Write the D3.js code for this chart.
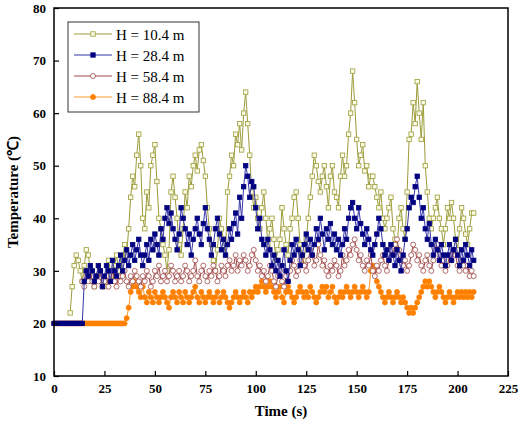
<!DOCTYPE html>
<html><head><meta charset="utf-8">
<script src="https://cdn.jsdelivr.net/npm/d3@7"></script>
<style>body{margin:0;background:#fff}text{font-family:"Liberation Serif","Times New Roman",serif}</style>
</head><body><svg id="c" width="520" height="427"></svg>
<script>
// series values, one sample per second starting at the given time
var start104 = 8;
var h104 = [22,27,31,33,32,30,28,31,34,33, 30,28,27,29,31,30,28,27,29,32, 30,28,31,33,30,29,32,35,33,38,
  44,48,46,52,56,50,40,38,45,42, 50,52,54,47,40,38,35,33,30,34, 45,48,44,40,35,33,38,45,42,48,
  46,50,52,49,53,54,51,48,42,38, 35,32,30,34,40,38,36,33,45,48, 52,50,56,54,58,53,60,64,58,52,
  45,42,44,40,38,42,45,40,35,38, 40,36,32,34,36,42,38,35,33,38, 40,44,45,40,35,33,32,36,40,44,
  48,52,50,47,45,48,50,46,42,48, 50,45,44,42,48,52,48,50,56,60, 68,62,55,50,52,54,49,50,46,48,
  48,46,44,42,45,40,38,40,42,44, 38,36,34,40,42,38,36,45,55,56, 62,58,66,60,55,62,50,45,40,38,
  40,42,44,40,38,35,38,42,40,43, 40,36,34,38,42,40,37,35,38,41, 41];
var start284 = 0;
var h284 = [20,20,20,20,20,20,20,20,20,20,20,20,20,20,20,
  28,30,29,31,30,28,29,31,30,27, 29,31,30,28,32,30,29,31,33,30, 32,34,31,33,35,32,34,36,33,31,
  33,35,32,36,34,37,35,33,38,36, 40,42,39,41,38,36,34,37,42,40, 38,35,37,33,36,38,40,37,35,39,
  42,38,36,33,35,38,40,37,34,36, 33,35,38,36,39,41,37,44,40,46, 50,48,44,47,46,42,38,40,36,35,
  33,36,34,31,33,30,32,29,31,34, 30,28,32,35,33,36,34,31,33,35, 37,34,36,33,35,38,36,40,37,34,
  38,36,39,35,37,34,36,33,35,38, 36,40,42,43,40,38,42,39,37,35, 38,36,34,33,35,37,40,38,35,33,
  34,32,35,33,31,34,32,30,33,36, 38,42,44,43,46,48,44,40,42,38, 36,39,35,33,36,34,32,35,33,31,
  33,35,32,34,36,33,31,34,32,35, 33,31,34,32];
var start584 = 14;
var h584 = [28,27,29,28,30,28,27,29,28,30, 27,28,29,27,28,30,28,27,29,28, 29,30,28,27,29,28,30,29,28,27,
  29,28,30,29,27,28,30,29,31,28, 29,30,28,29,31,30,28,29,30,28, 29,31,30,28,29,30,32,29,28,30,
  31,29,28,30,29,31,30,28,29,31, 30,29,31,32,30,31,33,30,32,31, 33,32,30,31,33,34,32,30,31,29,
  30,28,29,31,30,28,27,29,30,28, 27,29,28,30,32,31,29,30,32,33, 31,30,32,34,33,31,32,35,33,31,
  32,30,29,31,30,32,31,29,30,33, 31,32,34,33,35,36,34,32,33,31, 30,32,31,33,30,29,31,30,32,33,
  31,30,32,34,33,35,36,34,33,31, 32,30,31,33,35,34,32,33,31,30, 32,33,31,30,32,34,35,33,31,32,
  30,31,33,32,34,33,31,30,32,31, 30,31,29,30,29];
var start884 = 0;
var h884 = [20,20,20,20,20,20,20,20,20,20,20,20,20,20,20,20,20,20,20,20,20,20,20,20,20,20,20,20,20,20,20,20,20,20,20,
  20,21,23,26,27,28,27,26,25,27, 25,24,26,25,24,26,25,24,25,26, 25,24,23,25,26,25,24,26,25,24,
  26,25,24,25,26,27,25,24,26,25, 24,25,26,25,24,25,26,24,25,26, 25,24,23,24,25,26,25,24,25,26,
  25,24,26,25,26,27,26,27,28,27, 26,27,28,27,26,25,26,27,25,24, 26,27,26,25,24,25,26,27,26,25,
  26,25,27,26,25,24,25,26,27,26, 27,25,26,27,25,24,25,26,25,26, 27,26,25,26,27,26,25,26,27,26,
  25,26,30,31,30,28,27,26,25,24, 25,26,25,24,25,26,25,24,25,24, 23,22,23,22,23,24,25,26,27,28,
  27,28,27,26,25,26,27,26,25,24, 25,26,25,24,25,26,25,26,25,26, 25,26,25,26];
var xTicks = [0,25,50,75,100,125,150,175,200,225];
var yTicks = [10,20,30,40,50,60,70,80];
var labels = ["H = 10.4 m","H = 28.4 m","H = 58.4 m","H = 88.4 m"];

var svg = d3.select("#c");
var m = {l:54, r:508, t:8, b:376};
var x = d3.scaleLinear().domain([0,225]).range([m.l,m.r]);
var y = d3.scaleLinear().domain([10,80]).range([m.b,m.t]);

var series = [
  {v:h104, s:start104, line:"#9c9c3a", mark:"sq", fill:"#fafae6", stroke:"#9c9c3a"},
  {v:h284, s:start284, line:"#3535a8", mark:"sq", fill:"#000080", stroke:"#000080"},
  {v:h584, s:start584, line:"#a04848", mark:"ci", fill:"#fff", stroke:"#a04848"},
  {v:h884, s:start884, line:"#ff9a30", mark:"ci", fill:"#ff8000", stroke:"#ff8000"}
];

function marker(g, d, cx, cy, r) {
  if (d.mark == "sq") g.append("rect").attr("x",cx-r).attr("y",cy-r).attr("width",2*r).attr("height",2*r)
    .attr("fill",d.fill).attr("stroke",d.stroke).attr("stroke-width",0.8);
  else g.append("circle").attr("cx",cx).attr("cy",cy).attr("r",r+0.3)
    .attr("fill",d.fill).attr("stroke",d.stroke).attr("stroke-width",0.8);
}

// draw back to front: orange, red, blue, yellow? reference shows yellow under blue
[0,3,2,1].forEach(function(k){
  var d = series[k];
  var pts = d.v.map(function(v,i){ return [x(d.s+i), y(v)]; });
  var g = svg.append("g");
  g.append("path").attr("d", d3.line()(pts)).attr("fill","none").attr("stroke",d.line).attr("stroke-width",1);
  pts.forEach(function(p){ marker(g, d, p[0], p[1], 2.2); });
});

// frame and axes
svg.append("rect").attr("x",m.l).attr("y",m.t).attr("width",m.r-m.l).attr("height",m.b-m.t)
  .attr("fill","none").attr("stroke","#000").attr("stroke-width",1.5);
var ax = svg.append("g").attr("transform","translate(0,"+m.b+")")
  .call(d3.axisBottom(x).tickValues(xTicks).tickSize(-5).tickPadding(8));
var ay = svg.append("g").attr("transform","translate("+m.l+",0)")
  .call(d3.axisLeft(y).tickValues(yTicks).tickSize(-5).tickPadding(8));
[ax,ay].forEach(function(a){
  a.select(".domain").remove();
  a.selectAll("line").attr("stroke","#000").attr("stroke-width",1.2);
  a.selectAll("text").attr("font-size",13).attr("font-weight","bold")
    .style("font-family","Liberation Serif");
});
svg.append("text").attr("x",(m.l+m.r)/2).attr("y",416).attr("text-anchor","middle")
  .attr("font-size",15).attr("font-weight","bold").text("Time (s)");
svg.append("text").attr("transform","translate(18,"+((m.t+m.b)/2)+") rotate(-90)").attr("text-anchor","middle")
  .attr("font-size",15).attr("font-weight","bold").text("Temperature (℃)");

// legend
var lg = svg.append("g");
lg.append("rect").attr("x",68).attr("y",22).attr("width",131).attr("height",90)
  .attr("fill","#fff").attr("stroke","#333").attr("stroke-width",1);
series.forEach(function(d,i){
  var yy = 34 + i*21;
  lg.append("line").attr("x1",74).attr("x2",112).attr("y1",yy).attr("y2",yy).attr("stroke",d.line).attr("stroke-width",1);
  marker(lg, d, 93, yy, 2.2);
  lg.append("text").attr("x",116).attr("y",yy+5.5).attr("font-size",15).text(labels[i]);
});
</script></body></html>
